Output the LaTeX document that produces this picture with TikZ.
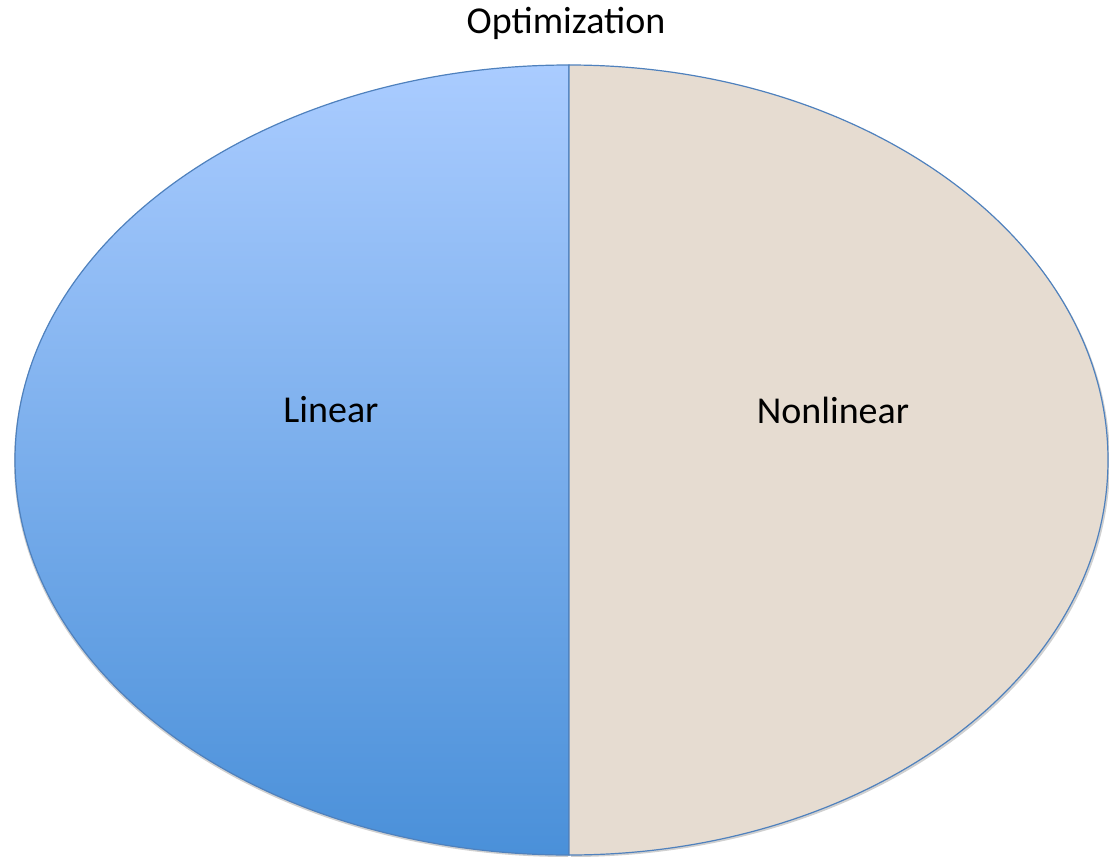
\documentclass[tikz,border=0pt]{standalone}
\usepackage{fontspec}
\setmainfont{Carlito}
\definecolor{topblue}{RGB}{170,204,255}
\definecolor{botblue}{RGB}{74,144,217}
\definecolor{beige}{RGB}{230,220,209}
\definecolor{edgeblue}{RGB}{79,129,189}
\definecolor{shadowgray}{RGB}{160,160,160}
\tikzset{
  half/.style={draw=edgeblue, line width=1.2pt},
  lbl/.style={font=\fontsize{38}{44}\selectfont, text=black, inner sep=0pt}
}
\begin{document}
\begin{tikzpicture}[x=1pt,y=1pt]
\useasboundingbox (0,0) rectangle (1109,-857);
% shadows
\fill[shadowgray!50] (568,-67) arc[start angle=90,end angle=270,x radius=554,y radius=395] -- cycle;
\fill[shadowgray!50] (571,-67) arc[start angle=90,end angle=-90,x radius=539,y radius=395] -- cycle;
% left half
\shade[half, top color=topblue, bottom color=botblue] (569,-65) arc[start angle=90,end angle=270,x radius=554,y radius=395] -- cycle;
% right half
\filldraw[half, fill=beige] (569,-65) arc[start angle=90,end angle=-90,x radius=539,y radius=395] -- cycle;
\node[lbl] (title) at (566,-23) {Optimization};
\node[lbl] (lin) at (331,-410) {Linear};
\node[lbl] (nonlin) at (833,-410) {Nonlinear};
\end{tikzpicture}
\end{document}
